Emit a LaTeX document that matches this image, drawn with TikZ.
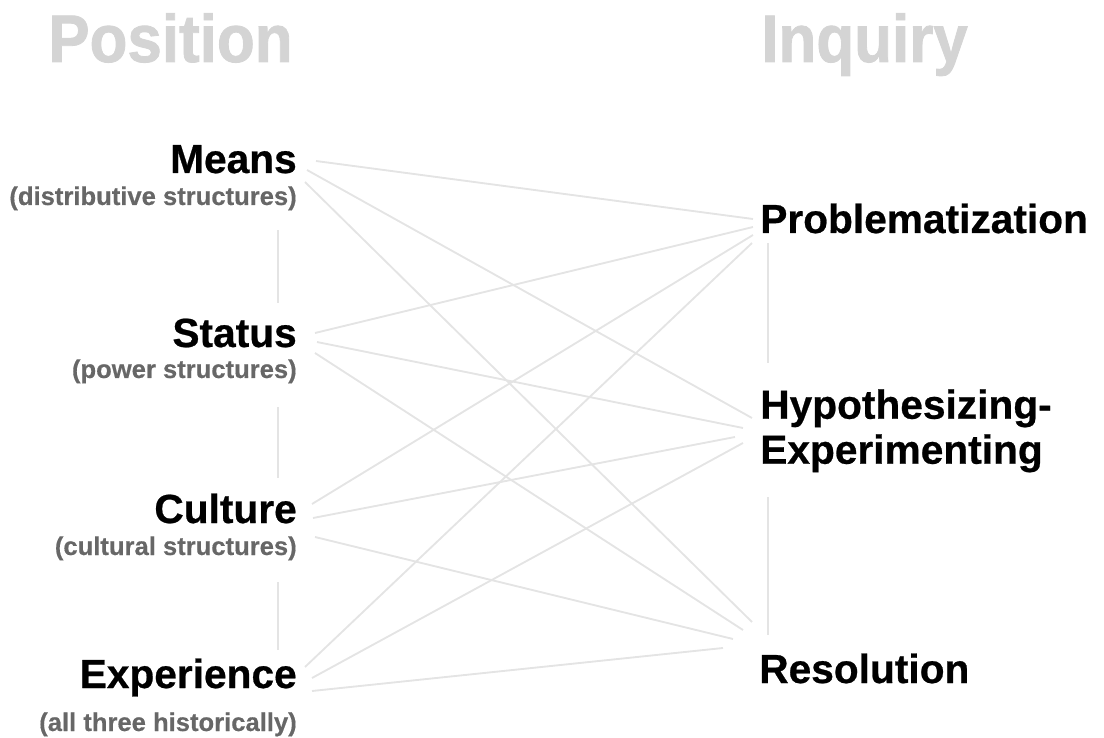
\documentclass[tikz,border=0pt]{standalone}
\usepackage{fontspec}
\setmainfont{Liberation Sans}
\newfontfamily\headfont{Liberation Sans Bold}[FakeStretch=0.92,FakeBold=1.2]
\newfontfamily\labelfont{Liberation Sans Bold}[FakeBold=0.6]
\newfontfamily\subfont{Liberation Sans Bold}[FakeBold=0.4]
\begin{document}
\begin{tikzpicture}[x=0.75pt,y=-0.75pt,
  heading/.style={inner sep=0pt,font=\headfont\fontsize{50.5}{54}\selectfont,text=headgray},
  label/.style={inner sep=0pt,font=\labelfont\fontsize{30.5}{33.75}\selectfont,text=black},
  sublabel/.style={inner sep=0pt,font=\subfont\fontsize{19.2}{22}\selectfont,text=subgray},
  link/.style={draw=linegray,line width=1.4pt},
  rail/.style={draw=linegray,line width=1.4pt}]
\definecolor{headgray}{HTML}{D4D4D4}
\definecolor{subgray}{HTML}{676767}
\definecolor{linegray}{HTML}{E4E4E4}
\useasboundingbox (0,0) rectangle (1104,738);

% column headings
\node[heading,anchor=base west] (hpos) at (48,62) {Position};
\node[heading,anchor=base west] (hinq) at (761,62) {Inquiry};

% position column
\node[label,anchor=base east] (means) at (297,173) {Means};
\node[sublabel,anchor=base east] (means-s) at (297,205) {(distributive structures)};
\node[label,anchor=base east] (status) at (297,347) {Status};
\node[sublabel,anchor=base east] (status-s) at (297,378) {(power structures)};
\node[label,anchor=base east] (culture) at (297,523) {Culture};
\node[sublabel,anchor=base east] (culture-s) at (297,555) {(cultural structures)};
\node[label,anchor=base east] (exper) at (297,688) {Experience};
\node[sublabel,anchor=base east] (exper-s) at (297,731) {(all three historically)};

% inquiry column
\node[label,anchor=base west] (prob) at (760,233) {Problematization};
\node[label,anchor=north west,align=left] (hyp) at (760,389) {Hypothesizing-\\Experimenting};
\node[label,anchor=base west] (res) at (759,683) {Resolution};

% ports on the position side
\coordinate (means-p) at (316,161);
\coordinate (means-h) at (307,170);
\coordinate (means-r) at (305,182);
\coordinate (status-p) at (315,333);
\coordinate (status-h) at (317,342);
\coordinate (status-r) at (315,353);
\coordinate (culture-p) at (312,504);
\coordinate (culture-h) at (313,518);
\coordinate (culture-r) at (315,537);
\coordinate (exper-p) at (305,667);
\coordinate (exper-h) at (312,678);
\coordinate (exper-r) at (312,691);

% ports on the inquiry side
\coordinate (prob-m) at (753,219);
\coordinate (prob-s) at (753,227);
\coordinate (prob-c) at (753,235);
\coordinate (prob-e) at (752,243);
\coordinate (hyp-m) at (752,418);
\coordinate (hyp-s) at (743,428);
\coordinate (hyp-c) at (735,437);
\coordinate (hyp-e) at (743,443);
\coordinate (res-m) at (752,622);
\coordinate (res-s) at (743,630);
\coordinate (res-c) at (733,639);
\coordinate (res-e) at (723,648);

% every position linked to every stage of inquiry
\draw[link] (means-p) -- (prob-m);
\draw[link] (means-h) -- (hyp-m);
\draw[link] (means-r) -- (res-m);
\draw[link] (status-p) -- (prob-s);
\draw[link] (status-h) -- (hyp-s);
\draw[link] (status-r) -- (res-s);
\draw[link] (culture-p) -- (prob-c);
\draw[link] (culture-h) -- (hyp-c);
\draw[link] (culture-r) -- (res-c);
\draw[link] (exper-p) -- (prob-e);
\draw[link] (exper-h) -- (hyp-e);
\draw[link] (exper-r) -- (res-e);

% vertical rails inside each column
\coordinate (ms-top) at (278,230);   \coordinate (ms-bot) at (278,303);
\coordinate (sc-top) at (278,407);   \coordinate (sc-bot) at (278,478);
\coordinate (ce-top) at (278,582);   \coordinate (ce-bot) at (278,650);
\coordinate (ph-top) at (768,243);   \coordinate (ph-bot) at (768,363);
\coordinate (hr-top) at (768,497);   \coordinate (hr-bot) at (768,635);
\draw[rail] (ms-top) -- (ms-bot);
\draw[rail] (sc-top) -- (sc-bot);
\draw[rail] (ce-top) -- (ce-bot);
\draw[rail] (ph-top) -- (ph-bot);
\draw[rail] (hr-top) -- (hr-bot);
\end{tikzpicture}
\end{document}
